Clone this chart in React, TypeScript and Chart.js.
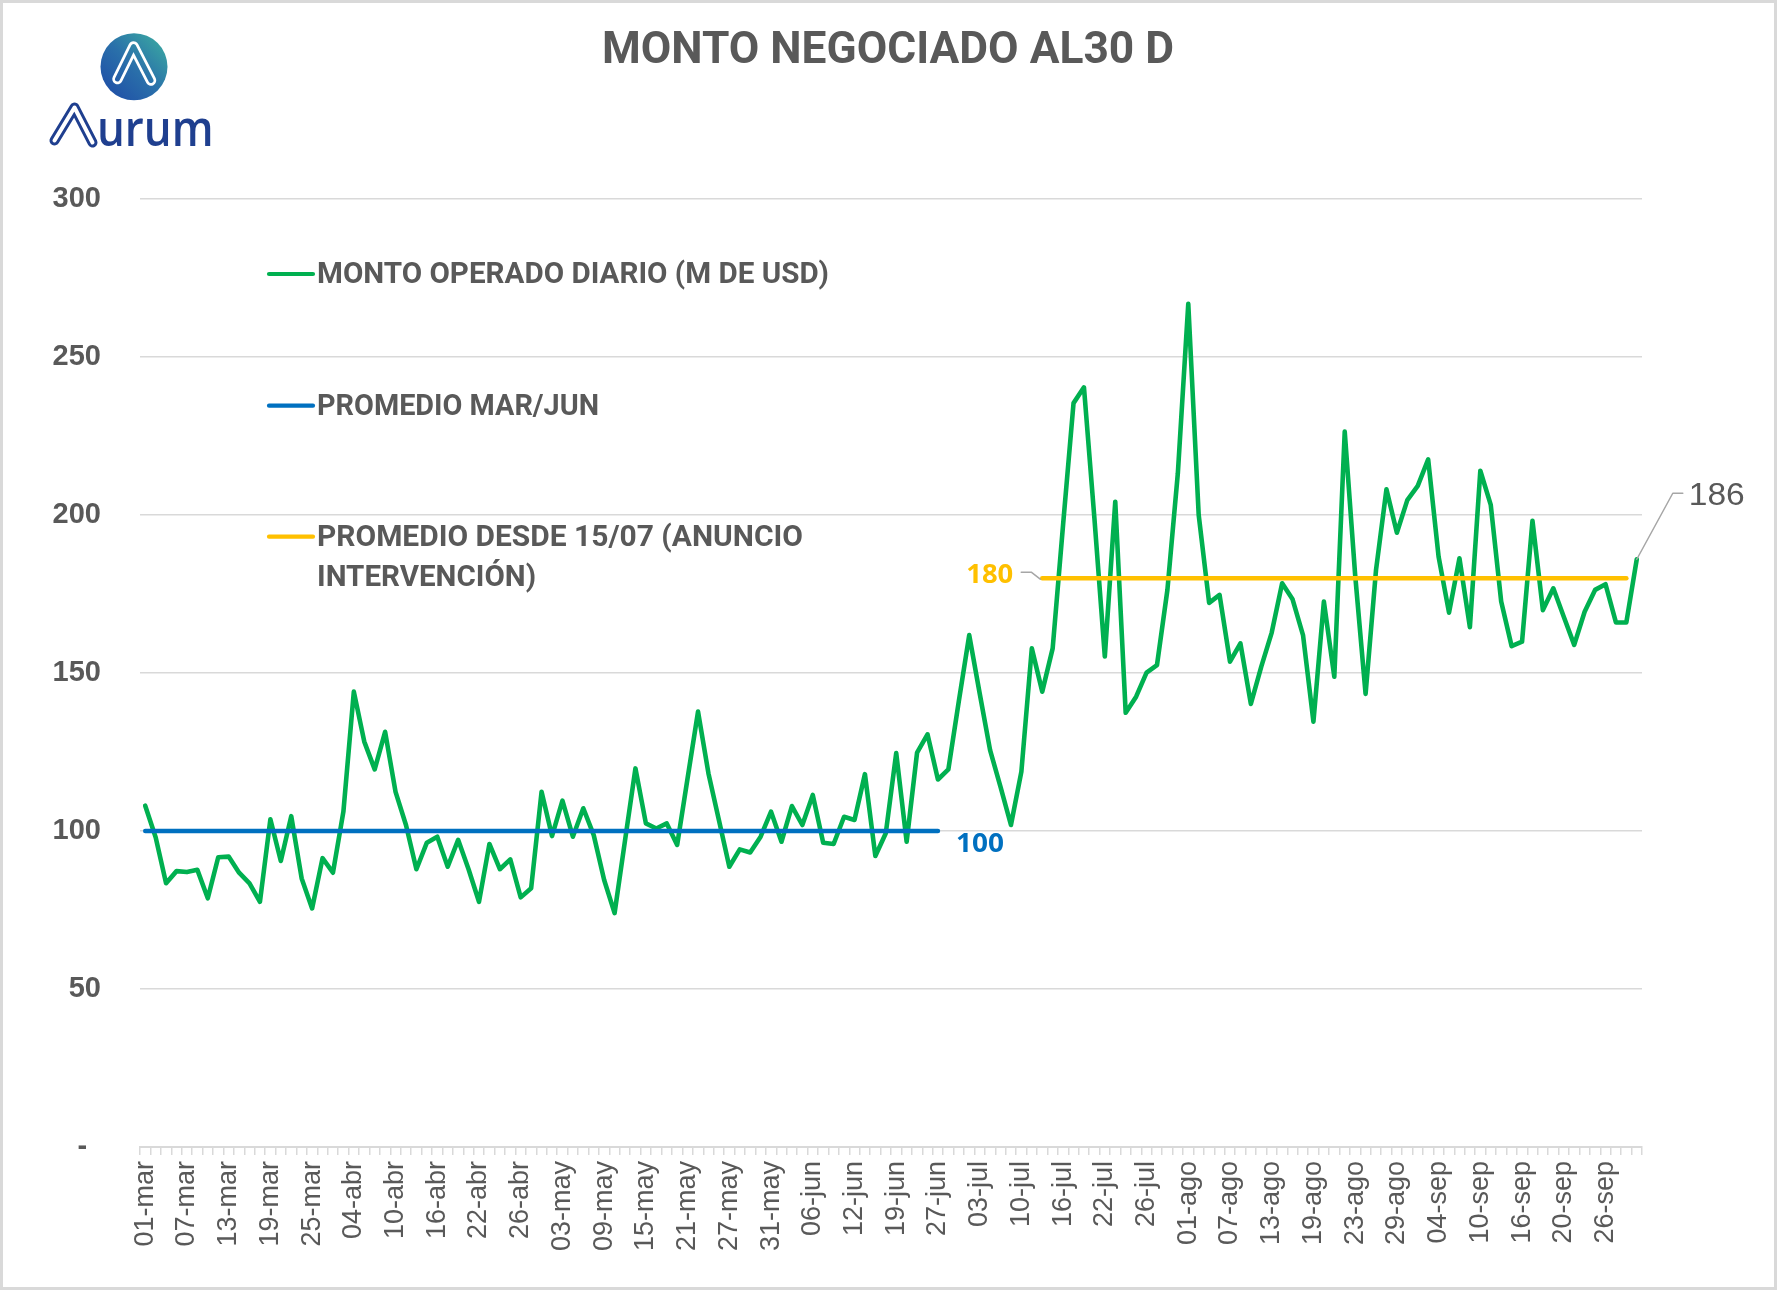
import React, { useEffect, useRef } from 'react';
import { Chart, registerables } from 'chart.js';

Chart.register(...registerables);

// ---------- DATA ----------
const fechas: string[] = [
  '01-mar', '04-mar', '05-mar', '06-mar', '07-mar', '08-mar', '11-mar', '12-mar', '13-mar', '14-mar',
  '15-mar', '18-mar', '19-mar', '20-mar', '21-mar', '22-mar', '25-mar', '26-mar', '27-mar',
  '03-abr', '04-abr', '05-abr', '08-abr', '09-abr', '10-abr', '11-abr', '12-abr', '15-abr', '16-abr',
  '17-abr', '18-abr', '19-abr', '22-abr', '23-abr', '24-abr', '25-abr', '26-abr', '29-abr', '30-abr',
  '02-may', '03-may', '06-may', '07-may', '08-may', '09-may', '10-may', '13-may', '14-may', '15-may',
  '16-may', '17-may', '20-may', '21-may', '22-may', '23-may', '24-may', '27-may', '28-may', '29-may',
  '30-may', '31-may',
  '03-jun', '04-jun', '05-jun', '06-jun', '07-jun', '10-jun', '11-jun', '12-jun', '13-jun', '14-jun',
  '18-jun', '19-jun', '24-jun', '25-jun', '26-jun', '27-jun', '28-jun',
  '01-jul', '02-jul', '03-jul', '04-jul', '05-jul', '08-jul', '10-jul', '11-jul', '12-jul', '15-jul',
  '16-jul', '17-jul', '18-jul', '19-jul', '22-jul', '23-jul', '24-jul', '25-jul', '26-jul', '29-jul',
  '30-jul', '31-jul',
  '01-ago', '02-ago', '05-ago', '06-ago', '07-ago', '08-ago', '09-ago', '12-ago', '13-ago', '14-ago',
  '15-ago', '16-ago', '19-ago', '20-ago', '21-ago', '22-ago', '23-ago', '26-ago', '27-ago', '28-ago',
  '29-ago', '30-ago',
  '02-sep', '03-sep', '04-sep', '05-sep', '06-sep', '09-sep', '10-sep', '11-sep', '12-sep', '13-sep',
  '16-sep', '17-sep', '18-sep', '19-sep', '20-sep', '23-sep', '24-sep', '25-sep', '26-sep', '27-sep',
  '30-sep', '01-oct',
];

const montoDiario: number[] = [
  108, 98, 83.5, 87.3, 87, 87.7, 78.7, 91.7, 91.9, 86.8,
  83.4, 77.6, 103.7, 90.5, 104.7, 85, 75.5, 91.4, 86.8, 106.1,
  144.1, 128.3, 119.5, 131.4, 112.4, 101.9, 87.9, 96.3, 98.2, 88.7,
  97.2, 87.9, 77.6, 95.9, 87.9, 91, 79, 81.9, 112.4, 98.4,
  109.6, 98.2, 107.2, 98.7, 84.5, 74, 97, 119.8, 102.4, 100.8,
  102.4, 95.6, 116.7, 137.8, 118.2, 103.5, 88.7, 94.2, 93.2, 98.2,
  106.1, 96.6, 107.9, 101.9, 111.4, 96.3, 95.9, 104.5, 103.5, 118,
  92.1, 99.3, 124.7, 96.6, 124.8, 130.6, 116.3, 119.5, 141, 162,
  143.6, 125.6, 114, 101.9, 118.8, 157.8, 144.1, 157.8, 197, 235.4,
  240.4, 199, 155.2, 204.2, 137.4, 142.5, 150.1, 152.5, 176.3, 213.2,
  266.8, 200, 172.2, 174.7, 153.6, 159.4, 140.2, 152, 162.8, 178.4,
  173.3, 162, 134.6, 172.6, 148.8, 226.4, 181, 143.4, 182.6, 208.1,
  194.4, 204.7, 209.2, 217.6, 186.8, 169.1, 186.3, 164.5, 214, 203.2,
  172.6, 158.5, 159.9, 198.2, 169.9, 176.8, 167.8, 158.9, 169.4, 176.3,
  178.1, 166, 166, 186,
];

const promedioMarJun = 100;
const rangoMarJun: number[] = [0, 76];
const promedioDesde1507 = 180;
const rangoDesde1507: number[] = [86, 142];

const yTicks: number[] = [0, 50, 100, 150, 200, 250, 300];

const titulo = 'MONTO NEGOCIADO AL30 D';
const leyendaMonto = 'MONTO OPERADO DIARIO (M DE USD)';
const leyendaMarJun = 'PROMEDIO MAR/JUN';
const leyendaDesde: string[] = ['PROMEDIO DESDE 15/07 (ANUNCIO', 'INTERVENCIÓN)'];

// ---------- STYLES ----------
const VERDE = '#00B050';
const AZUL = '#0070C0';
const AMARILLO = '#FFC000';
const GRIS = '#595959';
const GRILLA = '#d9d9d9';
const AZUL_LOGO = '#1f3f8f';

const serieMarJun = fechas.map((_, i) =>
  i >= rangoMarJun[0] && i <= rangoMarJun[1] ? promedioMarJun : null
);
const serieDesde = fechas.map((_, i) =>
  i >= rangoDesde1507[0] && i <= rangoDesde1507[1] ? promedioDesde1507 : null
);

function drawFit(
  ctx: CanvasRenderingContext2D,
  text: string,
  x: number,
  baseline: number,
  font: string,
  color: string,
  width: number,
  align: 'left' | 'right' | 'center' = 'left'
) {
  ctx.save();
  ctx.font = font;
  const w = ctx.measureText(text).width;
  const sx = width / w;
  const left = align === 'left' ? x : align === 'right' ? x - width : x - width / 2;
  ctx.translate(left, baseline);
  ctx.scale(sx, 1);
  ctx.fillStyle = color;
  ctx.textAlign = 'left';
  ctx.textBaseline = 'alphabetic';
  ctx.fillText(text, 0, 0);
  ctx.restore();
}

function strokePath(ctx: CanvasRenderingContext2D, pts: number[][], color: any, width: number) {
  ctx.save();
  ctx.beginPath();
  ctx.moveTo(pts[0][0], pts[0][1]);
  for (let i = 1; i < pts.length; i++) ctx.lineTo(pts[i][0], pts[i][1]);
  ctx.strokeStyle = color;
  ctx.lineWidth = width;
  ctx.lineCap = 'round';
  ctx.lineJoin = 'round';
  ctx.stroke();
  ctx.restore();
}

const overlayPlugin = {
  id: 'overlay',
  afterDatasetsDraw(chart: any) {
    const ctx: CanvasRenderingContext2D = chart.ctx;
    const xs = chart.scales.x;
    const ys = chart.scales.y;

    // label 100 (end of blue line)
    const bx = xs.getPixelForValue(rangoMarJun[1]);
    const by = ys.getPixelForValue(promedioMarJun);
    drawFit(ctx, String(promedioMarJun), bx + 18, by + 21, "bold 27px 'Open Sans'", AZUL, 48);

    // label 180 (start of yellow line) with leader
    const ax = xs.getPixelForValue(rangoDesde1507[0]);
    const ay = ys.getPixelForValue(promedioDesde1507);
    strokePath(ctx, [[ax - 21, ay - 6], [ax - 11, ay - 6], [ax - 2, ay + 1]], '#a6a6a6', 1.5);
    drawFit(ctx, String(promedioDesde1507), ax - 29, ay + 4.5, "bold 27px 'Open Sans'", AMARILLO, 47, 'right');

    // label last value with leader
    const li = montoDiario.length - 1;
    const lx = xs.getPixelForValue(li);
    const ly = ys.getPixelForValue(montoDiario[li]);
    strokePath(ctx, [[lx, ly], [lx + 36, ly - 66], [lx + 46, ly - 66]], '#a6a6a6', 1.5);
    drawFit(ctx, String(Math.round(montoDiario[li])), lx + 52, ly - 54, "32px 'Liberation Sans'", GRIS, 56);
  },
  afterDraw(chart: any) {
    const ctx: CanvasRenderingContext2D = chart.ctx;

    // title
    drawFit(ctx, titulo, 602, 63.3, "bold 45px Roboto", GRIS, 572);

    // legend
    const symX0 = 269, symX1 = 313, textX = 317;
    const lf = "bold 29px Roboto";
    strokePath(ctx, [[symX0, 274], [symX1, 274]], VERDE, 4.2);
    drawFit(ctx, leyendaMonto, textX, 283.3, lf, GRIS, 512);
    strokePath(ctx, [[symX0, 405.7], [symX1, 405.7]], AZUL, 4.2);
    drawFit(ctx, leyendaMarJun, textX, 415, lf, GRIS, 282);
    strokePath(ctx, [[symX0, 536.7], [symX1, 536.7]], AMARILLO, 4.2);
    drawFit(ctx, leyendaDesde[0], textX, 546, lf, GRIS, 486);
    drawFit(ctx, leyendaDesde[1], textX, 586, lf, GRIS, 219);

    // logo circle
    const cx = 134, cy = 66.7, r = 33.5;
    const g = ctx.createLinearGradient(cx - r, cy + r, cx + r, cy - r);
    g.addColorStop(0, '#1d48a6');
    g.addColorStop(0.5, '#2a70aa');
    g.addColorStop(1, '#3db2a0');
    ctx.save();
    ctx.beginPath();
    ctx.arc(cx, cy, r, 0, Math.PI * 2);
    ctx.fillStyle = g;
    ctx.fill();
    ctx.restore();
    const innerA = [[117.5, 79], [133.5, 46.5], [151, 80.5]];
    strokePath(ctx, innerA, '#ffffff', 10.5);
    strokePath(ctx, innerA, g, 5);

    // logo wordmark
    const bigA = [[54.5, 140.5], [74.5, 107.5], [92.5, 142.5]];
    strokePath(ctx, bigA, AZUL_LOGO, 10);
    strokePath(ctx, bigA, '#ffffff', 4);
    drawFit(ctx, 'urum', 97, 145.5, "600 48px 'Open Sans'", AZUL_LOGO, 116.5);

    // frame
    ctx.save();
    ctx.strokeStyle = GRILLA;
    ctx.lineWidth = 3;
    ctx.strokeRect(1.5, 1.5, chart.width - 3, chart.height - 3);
    ctx.restore();
  },
};

export default function App() {
  const ref = useRef<HTMLCanvasElement | null>(null);

  useEffect(() => {
    if (!ref.current) return;
    const chart = new Chart(ref.current, {
      type: 'line',
      data: {
        labels: fechas,
        datasets: [
          {
            label: leyendaMarJun,
            data: serieMarJun,
            borderColor: AZUL,
            backgroundColor: AZUL,
            borderWidth: 4.5,
            pointRadius: 0,
            borderCapStyle: 'round',
            order: 1,
          },
          {
            label: leyendaDesde.join(' '),
            data: serieDesde,
            borderColor: AMARILLO,
            backgroundColor: AMARILLO,
            borderWidth: 4.5,
            pointRadius: 0,
            borderCapStyle: 'round',
            order: 1,
          },
          {
            label: leyendaMonto,
            data: montoDiario,
            borderColor: VERDE,
            backgroundColor: VERDE,
            borderWidth: 4.6,
            pointRadius: 0,
            borderJoinStyle: 'round',
            borderCapStyle: 'round',
            tension: 0,
            order: 2,
          },
        ],
      } as any,
      options: {
        responsive: false,
        animation: false,
        layout: { padding: { left: 0, top: 199, right: 135, bottom: 0 } },
        plugins: {
          legend: { display: false },
          tooltip: { enabled: false },
          title: { display: false },
        },
        scales: {
          x: {
            type: 'category',
            offset: true,
            grid: {
              offset: true,
              drawOnChartArea: false,
              drawTicks: true,
              tickLength: 8,
              color: GRILLA,
              lineWidth: 1.5,
            },
            border: { display: true, color: GRILLA, width: 2 },
            ticks: {
              autoSkip: false,
              minRotation: 90,
              maxRotation: 90,
              padding: 6,
              color: GRIS,
              font: { family: "'Liberation Sans'", size: 27 },
              callback: (_v: any, i: number) => (i % 4 === 0 ? fechas[i] : ''),
            },
            afterFit: (s: any) => {
              s.height = 143;
            },
          },
          y: {
            min: yTicks[0],
            max: yTicks[yTicks.length - 1],
            afterBuildTicks: (s: any) => {
              s.ticks = yTicks.map((v) => ({ value: v }));
            },
            ticks: {
              padding: 39,
              color: GRIS,
              font: { family: "'Liberation Sans'", size: 29, weight: 'bold' },
              callback: (v: any) => (Number(v) === 0 ? '- \u2009' : String(v)),
            },
            grid: { color: GRILLA, lineWidth: 1.5, drawTicks: false },
            border: { display: false },
            afterFit: (s: any) => {
              s.width = 140;
            },
          },
        },
      } as any,
      plugins: [overlayPlugin],
    });
    return () => chart.destroy();
  }, []);

  return (
    <div style={{ position: 'absolute', left: 0, top: 0, width: 1777, height: 1290, background: '#ffffff' }}>
      <canvas ref={ref} width={1777} height={1290} style={{ display: 'block' }} />
    </div>
  );
}
